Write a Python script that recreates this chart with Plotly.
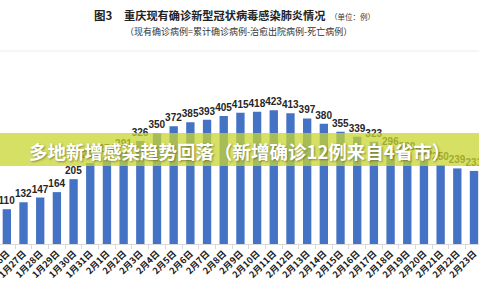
import plotly.graph_objects as go

dates = ["1月26日", "1月27日", "1月28日", "1月29日", "1月30日", "1月31日",
         "2月1日", "2月2日", "2月3日", "2月4日", "2月5日", "2月6日", "2月7日",
         "2月8日", "2月9日", "2月10日", "2月11日", "2月12日", "2月13日",
         "2月14日", "2月15日", "2月16日", "2月17日", "2月18日", "2月19日",
         "2月20日", "2月21日", "2月22日", "2月23日"]
current_cases = [110, 132, 147, 164, 205, 256, 274, 291, 326, 350, 372, 385, 393,
                 405, 415, 418, 423, 413, 397, 380, 355, 339, 323, 296, 280,
                 265, 250, 239, 231]

fig_label = "图3"
title_main = "重庆现有确诊新型冠状病毒感染肺炎情况"
title_unit = "（单位：例）"
subtitle = "（现有确诊病例=累计确诊病例-治愈出院病例-死亡病例）"
banner_text = "多地新增感染趋势回落（新增确诊12例来自4省市）"

W, H = 479, 300
top_px, bottom_px = 52, 244
plot_h = bottom_px - top_px


def py(p):
    return (bottom_px - p) / plot_h


fig = go.Figure()
fig.add_trace(go.Bar(
    x=dates, y=current_cases,
    marker=dict(color="#4472C4", line=dict(width=0)),
    text=[str(v) for v in current_cases],
    textposition="outside",
    constraintext="none",
    cliponaxis=False,
    textfont=dict(family="Liberation Sans, Arial", size=10, color="#262626", weight="bold"),
    width=0.5,
))

fig.update_layout(
    width=W, height=H,
    margin=dict(l=0, r=0, t=top_px, b=H - bottom_px, pad=0, autoexpand=False),
    paper_bgcolor="white", plot_bgcolor="white",
    showlegend=False,
    xaxis=dict(
        type="category", range=[-0.41, 28.3],
        automargin=False,
        tickangle=-45,
        tickfont=dict(family="Noto Sans CJK SC", size=9, color="#1a1a1a", weight="bold"),
        showline=True, linecolor="#d9d9d9", linewidth=1,
        ticks="outside", ticklen=4, tickcolor="#d9d9d9", tickson="boundaries",
        showgrid=False,
    ),
    yaxis=dict(range=[0, 607], visible=False, showgrid=False, automargin=False),
    font=dict(family="Noto Sans CJK SC"),
)

shapes = [
    dict(type="line", xref="paper", yref="paper", x0=0, x1=1, y0=py(51), y1=py(51),
         line=dict(color="#ececec", width=1), layer="above"),
    dict(type="rect", xref="paper", yref="paper", x0=-0.01, x1=1.01, y0=py(166), y1=py(133),
         fillcolor="rgba(200,214,50,0.75)", line=dict(width=0), layer="above"),
]
fig.update_layout(shapes=shapes)

annotations = [
    dict(text="<b>" + fig_label + "</b>", x=92, y=py(15), xref="px", yref="paper",
         xanchor="left", yanchor="middle", showarrow=False,
         font=dict(family="Noto Sans CJK SC", size=11.5, color="#222222")),
    dict(text="<b>" + title_main + "</b>", x=122, y=py(15), xref="px", yref="paper",
         xanchor="left", yanchor="middle", showarrow=False,
         font=dict(family="Noto Sans CJK SC", size=11.2, color="#222222")),
    dict(text=title_unit, x=328, y=py(16), xref="px", yref="paper",
         xanchor="left", yanchor="middle", showarrow=False,
         font=dict(family="Noto Sans CJK SC", size=7.5, color="#333333")),
    dict(text=subtitle, x=123, y=py(32), xref="px", yref="paper",
         xanchor="left", yanchor="middle", showarrow=False,
         font=dict(family="Noto Sans CJK SC", size=9, color="#333333")),
    dict(text="<b>" + banner_text + "</b>", x=0.5, y=py(151), xref="paper", yref="paper",
         xanchor="center", yanchor="middle", showarrow=False,
         font=dict(family="Noto Sans CJK SC", size=18.5, color="white",
                   shadow="1px 1px 2px rgba(60,60,20,0.5)")),
]
for a in annotations:
    if a["xref"] == "px":
        a["xref"] = "paper"
        a["x"] = a["x"] / W
fig.update_layout(annotations=annotations)

fig.write_html("out.html")
